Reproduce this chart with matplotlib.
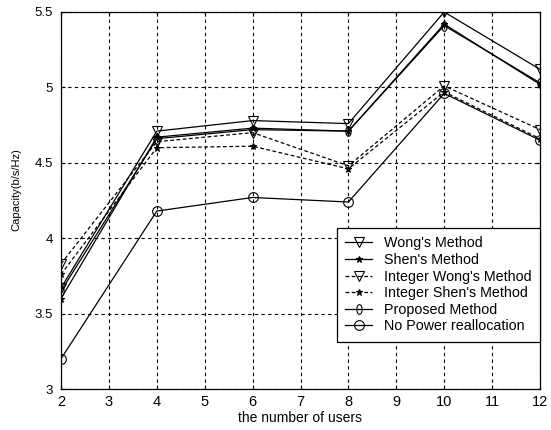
import matplotlib
matplotlib.use("Agg")
import matplotlib.pyplot as plt
from matplotlib.markers import MarkerStyle
from matplotlib.transforms import Affine2D

plt.rcParams['font.family'] = ['Liberation Sans', 'DejaVu Sans']

users = [2, 4, 6, 8, 10, 12]
wong = [3.67, 4.71, 4.78, 4.76, 5.50, 5.12]
shen = [3.60, 4.67, 4.73, 4.71, 5.42, 5.02]
int_wong = [3.83, 4.64, 4.70, 4.48, 5.01, 4.72]
int_shen = [3.76, 4.60, 4.61, 4.46, 4.97, 4.66]
proposed = [3.65, 4.66, 4.72, 4.71, 5.41, 5.03]
no_power = [3.20, 4.18, 4.27, 4.24, 4.96, 4.65]
labels = ["Wong's Method", "Shen's Method", "Integer Wong's Method",
          "Integer Shen's Method", "Proposed Method", "No Power reallocation"]

W, H = 551, 430
fig = plt.figure(figsize=(W/100, H/100), dpi=100)
ax = fig.add_axes([61/W, (H-389)/H, (540-61)/W, (389-12)/H])

thin = MarkerStyle('o', transform=Affine2D().scale(0.55, 1.0))
kw = dict(color='black', lw=0.9, mfc='none', mec='black', ms=7, mew=0.8)
dash = (0, (3, 2))
ax.plot(users, wong, '-', marker='v', label=labels[0], **kw)
ax.plot(users, shen, '-', marker='*', label=labels[1], **{**kw, 'mfc': 'black', 'ms': 5})
ax.plot(users, int_wong, linestyle=dash, marker='v', label=labels[2], **kw)
ax.plot(users, int_shen, linestyle=dash, marker='*', label=labels[3], **{**kw, 'mfc': 'black', 'ms': 5})
ax.plot(users, proposed, '-', marker=thin, label=labels[4], **kw)
ax.plot(users, no_power, '-', marker='o', label=labels[5], **kw)

ax.set_xlim(2, 12)
ax.set_ylim(3, 5.5)
ax.set_xticks(range(2, 13))
ax.set_yticks([3, 3.5, 4, 4.5, 5, 5.5])
ax.set_yticklabels(['3', '3.5', '4', '4.5', '5', '5.5'])
ax.grid(True, color='black', linestyle=(0, (3, 3)), lw=0.8)
ax.tick_params(direction='in', length=3, top=True, right=True)
ax.tick_params(axis='x', labelsize=10.5, pad=4)
ax.tick_params(axis='y', labelsize=9.5, pad=6)
for s in ax.spines.values():
    s.set_linewidth(0.9)
ax.set_xlabel('the number of users', fontsize=10, labelpad=2)
ax.set_ylabel('Capacity(b/s/Hz)', fontsize=8, labelpad=8)
ax.yaxis.set_label_coords(-0.083, 0.53)

leg = ax.legend(loc='lower right', fontsize=10.3, frameon=True, fancybox=False,
                edgecolor='black', framealpha=1, borderaxespad=0.0,
                handlelength=1.9, handletextpad=0.8, labelspacing=0.18,
                borderpad=0.6, bbox_to_anchor=(1.0, 0.125))
leg.get_frame().set_linewidth(0.9)

fig.savefig('out.png', dpi=100)
